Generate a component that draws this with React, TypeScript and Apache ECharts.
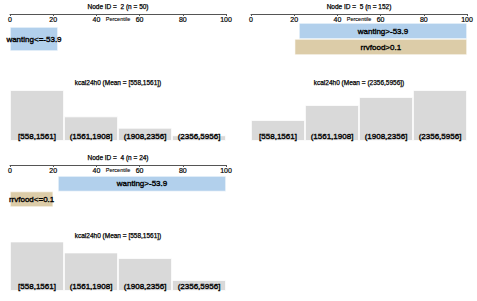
import React, { useEffect, useRef } from "react";
import * as echarts from "echarts";

const FONT = "'Liberation Sans', Arial, Helvetica, sans-serif";

// ---- data ----
const bins = ["[558,1561]", "(1561,1908]", "(1908,2356]", "(2356,5956]"];
const percentileTicksInterval = 20;

const node2Title = "Node ID =  2 (n = 50)";
const node2Rules = ["wanting<=-53.9"];
const node2Start = [0];
const node2End = [22.2];
const node2Counts = [27, 13, 7, 3];
const node2Mean = "kcal24h0 (Mean = [558,1561])";

const node5Title = "Node ID =  5 (n = 152)";
const node5Rules = ["wanting>-53.9", "rrvfood>0.1"];
const node5Start = [22.2, 20.2];
const node5End = [100, 100];
const node5Counts = [21, 36, 44, 51];
const node5Mean = "kcal24h0 (Mean = (2356,5956])";

const node4Title = "Node ID =  4 (n = 24)";
const node4Rules = ["wanting>-53.9", "rrvfood<=0.1"];
const node4Start = [22.2, 0];
const node4End = [100, 20];
const node4Counts = [9, 7, 6, 2];
const node4Mean = "kcal24h0 (Mean = [558,1561])";

const ruleColor = (r: string) => (r.startsWith("wanting") ? "#b2d0ec" : "#dccca8");

type Panel = {
  title: string;
  rules: string[];
  start: number[];
  end: number[];
  counts: number[];
  mean: string;
  left: number;
  axisY: number;
  barTop: number;
  barH: number;
  histTitleY: number;
  histTop: number;
  histH: number;
};

const panels: Panel[] = [
  { title: node2Title, rules: node2Rules, start: node2Start, end: node2End, counts: node2Counts, mean: node2Mean,
    left: 10, axisY: 14, barTop: 27, barH: 24, histTitleY: 82.5, histTop: 90, histH: 51 },
  { title: node5Title, rules: node5Rules, start: node5Start, end: node5End, counts: node5Counts, mean: node5Mean,
    left: 251, axisY: 14, barTop: 23, barH: 32, histTitleY: 82.5, histTop: 90, histH: 51 },
  { title: node4Title, rules: node4Rules, start: node4Start, end: node4End, counts: node4Counts, mean: node4Mean,
    left: 10, axisY: 165, barTop: 176, barH: 31, histTitleY: 235.5, histTop: 241.5, histH: 49.5 },
];

const W = 216;
const STROKE = { textBorderColor: "#000", textBorderWidth: 0.35 };
const STROKE_THIN = { textBorderColor: "#000", textBorderWidth: 0.2 };

function buildOption() {
  const grid: any[] = [];
  const xAxis: any[] = [];
  const yAxis: any[] = [];
  const series: any[] = [];
  const graphic: any[] = [];

  panels.forEach((p, i) => {
    const cx = p.left + W / 2;
    const gRule = i * 2;
    const gHist = i * 2 + 1;

    grid.push({ left: p.left, top: p.barTop, width: W, height: p.barH });
    grid.push({ left: p.left, top: p.histTop, width: W, height: p.histH });

    xAxis.push({
      type: "value", gridIndex: gRule, min: 0, max: 100, interval: percentileTicksInterval,
      position: "top", offset: p.barTop - p.axisY,
      axisLine: { show: true, lineStyle: { color: "#555", width: 1 } },
      axisTick: { show: true, inside: true, length: 2, lineStyle: { color: "#555" } },
      axisLabel: { inside: true, margin: 2, fontSize: 7, color: "#000", fontFamily: FONT, ...STROKE_THIN },
      splitLine: { show: false },
    });
    yAxis.push({ type: "category", gridIndex: gRule, data: p.rules, inverse: true, show: false });

    xAxis.push({
      type: "category", gridIndex: gHist, data: bins, z: 10,
      axisLine: { show: false }, axisTick: { show: false },
      axisLabel: { inside: true, margin: 1, interval: 0, fontSize: 8, color: "#000", fontFamily: FONT, ...STROKE },
    });
    yAxis.push({ type: "value", gridIndex: gHist, min: 0, max: "dataMax", show: false });

    series.push({
      type: "bar", xAxisIndex: gRule, yAxisIndex: gRule, stack: "r" + i, silent: true,
      barCategoryGap: "0%", data: p.start, itemStyle: { color: "transparent" },
    });
    series.push({
      type: "bar", xAxisIndex: gRule, yAxisIndex: gRule, stack: "r" + i,
      barCategoryGap: "0%",
      data: p.end.map((e, k) => ({
        value: e - p.start[k],
        itemStyle: { color: ruleColor(p.rules[k]), borderColor: "#ffffff", borderWidth: 0.6 },
      })),
      label: {
        show: true, position: "inside", fontSize: 8, color: "#000", fontFamily: FONT, ...STROKE,
        formatter: (q: any) => p.rules[q.dataIndex],
      },
    });
    series.push({
      type: "bar", xAxisIndex: gHist, yAxisIndex: gHist, barCategoryGap: "0%",
      data: p.counts,
      itemStyle: { color: "#d9d9d9", borderColor: "#ffffff", borderWidth: 0.8 },
    });

    const tstyle = (text: string, size: number, sw: number) => ({
      text, fontSize: size, fontFamily: FONT, fill: "#000", align: "center", verticalAlign: "middle",
      stroke: "#000", lineWidth: sw,
    });
    graphic.push({ type: "text", x: cx, y: p.axisY - 7.5, style: tstyle(p.title, 6.5, 0.25) });
    graphic.push({ type: "text", x: cx, y: p.axisY + 5, style: tstyle("Percentile", 5.5, 0.1) });
    graphic.push({ type: "text", x: cx, y: p.histTitleY, style: tstyle(p.mean, 6.5, 0.25) });
  });

  return {
    animation: false,
    backgroundColor: "#ffffff",
    grid, xAxis, yAxis, series, graphic,
  };
}

export default function App() {
  const ref = useRef<HTMLDivElement>(null);
  useEffect(() => {
    if (!ref.current) return;
    const chart = echarts.init(ref.current, undefined, { renderer: "svg" });
    chart.setOption(buildOption() as any);
    return () => chart.dispose();
  }, []);
  return (
    <div
      ref={ref}
      style={{ position: "fixed", left: 0, top: 0, width: 477, height: 301 }}
    />
  );
}
